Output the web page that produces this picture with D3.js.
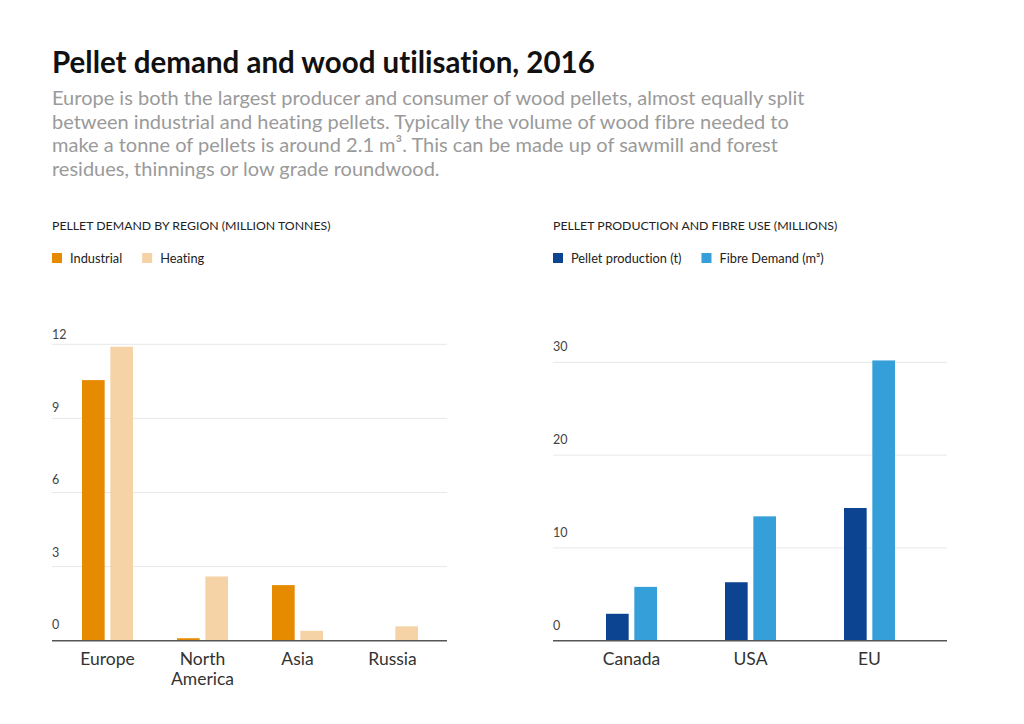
<!DOCTYPE html>
<html><head><meta charset="utf-8">
<script src="https://cdn.jsdelivr.net/npm/d3@7"></script>
<style>body{margin:0;background:#fff}svg{display:block}text{font-variant-ligatures:none;font-feature-settings:"liga" 0,"dlig" 0}</style>
</head><body>
<svg id="c" width="1024" height="724"></svg>
<script>
const regions = ["Europe", "North America", "Asia", "Russia"];
const industrial = [10.55, 0.1, 2.25, 0];
const heating = [11.9, 2.6, 0.4, 0.58];
const leftTicks = [0, 3, 6, 9, 12];

const countries = ["Canada", "USA", "EU"];
const pelletProd = [2.9, 6.3, 14.3];
const fibreDemand = [5.8, 13.4, 30.2];
const rightTicks = [0, 10, 20, 30];

const FONT = "Lato, 'Open Sans', sans-serif";
const svg = d3.select("#c");

svg.append("text").attr("x", 52).attr("y", 73).attr("font-family", FONT)
  .attr("font-weight", 700).attr("font-size", 29.5).attr("fill", "#111")
  .text("Pellet demand and wood utilisation, 2016");

const sub = ["Europe is both the largest producer and consumer of wood pellets, almost equally split",
  "between industrial and heating pellets. Typically the volume of wood fibre needed to",
  "make a tonne of pellets is around 2.1 m³. This can be made up of sawmill and forest",
  "residues, thinnings or low grade roundwood."];
svg.append("g").selectAll("text").data(sub).join("text")
  .attr("x", 52).attr("y", (d, i) => 105 + i * 23.5)
  .attr("font-family", FONT).attr("font-size", 20).attr("fill", "#9a9a9a").text(d => d);

function panel(opts) {
  const g = svg.append("g");
  g.append("text").attr("x", opts.x0).attr("y", 230).attr("font-family", FONT)
    .attr("font-size", 12.3).attr("fill", "#222").text(opts.heading);
  let lx = opts.x0;
  opts.legend.forEach((l, i) => {
    g.append("rect").attr("x", lx).attr("y", 253).attr("width", 10).attr("height", 10).attr("fill", l.color);
    const t = g.append("text").attr("x", lx + 18).attr("y", 262.5).attr("font-family", FONT)
      .attr("font-size", 12.8).attr("fill", "#222").text(l.label);
    lx += 18 + t.node().getComputedTextLength() + 20;
  });
  const y = d3.scaleLinear().domain([0, opts.max]).range([640.7, opts.topY]);
  g.append("g").selectAll("line").data(opts.ticks.filter(t => t > 0)).join("line")
    .attr("x1", opts.x0).attr("x2", opts.x1).attr("y1", d => y(d)).attr("y2", d => y(d))
    .attr("stroke", "#e8e8e8").attr("stroke-width", 1);
  g.append("g").selectAll("text").data(opts.ticks).join("text")
    .attr("x", opts.x0).attr("y", d => y(d) - opts.labOff(d))
    .attr("font-family", FONT).attr("font-size", 12.5).attr("fill", "#444").text(d => d);
  const x0 = d3.scaleBand().domain(opts.cats).range(opts.bandRange);
  const x1 = d3.scaleBand().domain([0, 1]).range([x0.bandwidth() / 2 - 25.5, x0.bandwidth() / 2 + 25.5]).paddingInner(0.2);
  opts.series.forEach((s, si) => {
    g.append("g").selectAll("rect").data(s.values).join("rect")
      .attr("x", (d, i) => x0(opts.cats[i]) + x1(si))
      .attr("width", x1.bandwidth())
      .attr("y", d => y(d)).attr("height", d => y(0) - y(d))
      .attr("fill", s.color);
  });
  g.append("line").attr("x1", opts.x0).attr("x2", opts.x1).attr("y1", y(0)).attr("y2", y(0))
    .attr("stroke", "#555").attr("stroke-width", 1.5);
  const cl = g.append("g").selectAll("text").data(opts.cats).join("text")
    .attr("x", d => x0(d) + x0.bandwidth() / 2).attr("y", 665)
    .attr("text-anchor", "middle").attr("font-family", FONT).attr("font-size", 17.5).attr("fill", "#333");
  cl.each(function (d) {
    const words = d.split(" ");
    const t = d3.select(this);
    words.forEach((w, i) => t.append("tspan").attr("x", t.attr("x")).attr("dy", i ? 20 : 0).text(w));
  });
}

panel({
  x0: 52, x1: 447, heading: "PELLET DEMAND BY REGION (MILLION TONNES)",
  legend: [{label: "Industrial", color: "#E68A00"}, {label: "Heating", color: "#F6D3A6"}],
  max: 12, topY: 344.3, ticks: leftTicks, labOff: d => 11.4 - d * 0.53,
  cats: regions, bandRange: [60, 440],
  series: [{values: industrial, color: "#E68A00"}, {values: heating, color: "#F6D3A6"}]
});
panel({
  x0: 553, x1: 947, heading: "PELLET PRODUCTION AND FIBRE USE (MILLIONS)",
  legend: [{label: "Pellet production (t)", color: "#0D4491"}, {label: "Fibre Demand (m³)", color: "#359FDA"}],
  max: 30, topY: 362.3, ticks: rightTicks, labOff: d => 11,
  cats: countries, bandRange: [572, 929],
  series: [{values: pelletProd, color: "#0D4491"}, {values: fibreDemand, color: "#359FDA"}]
});
</script>
</body></html>
